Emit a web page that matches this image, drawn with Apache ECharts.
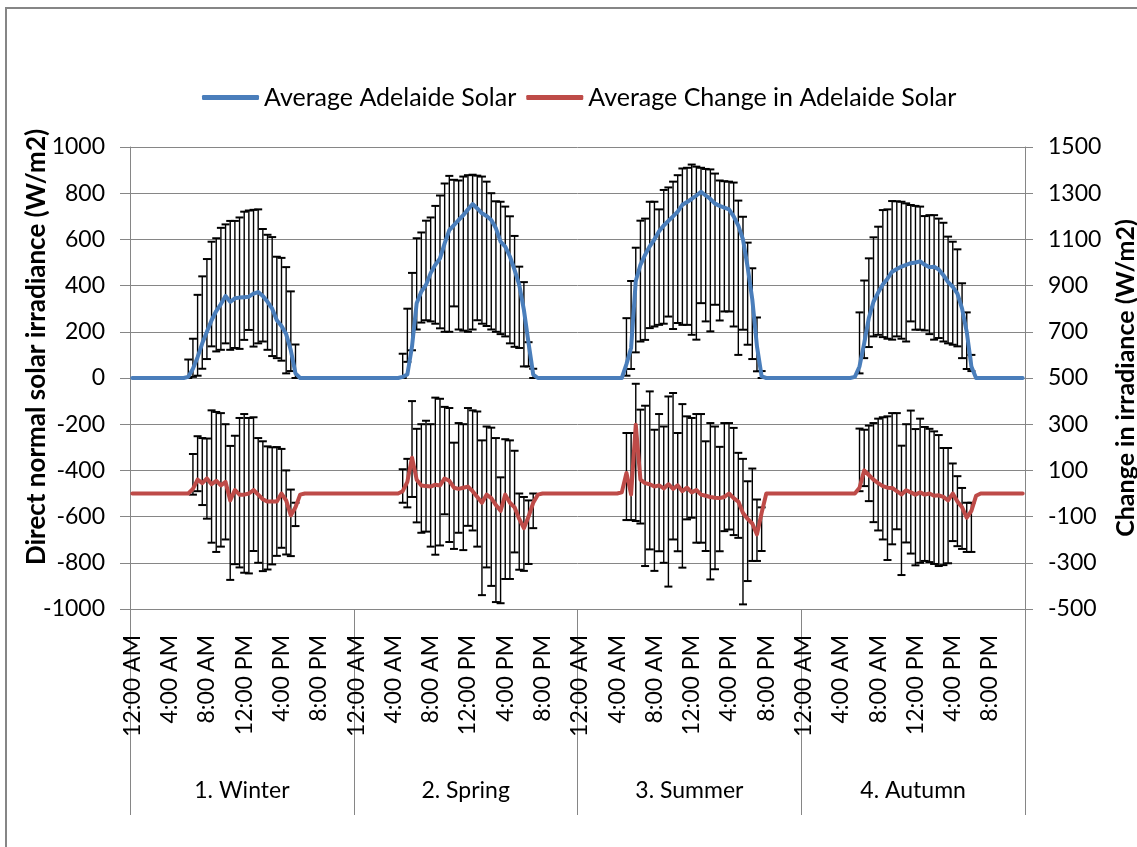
<!DOCTYPE html>
<html>
<head>
<meta charset="utf-8">
<title>Average Adelaide Solar</title>
<script src="https://cdn.jsdelivr.net/npm/echarts@6/dist/echarts.min.js"></script>
<style>
  html, body { margin: 0; padding: 0; background: #fff; }
  #chart { width: 1137px; height: 847px; }
</style>
</head>
<body>
<div id="chart"></div>
<script>
const _ = null;

const seasons = ['1. Winter', '2. Spring', '3. Summer', '4. Autumn'];

// half-hourly averages, 48 slots per season (W/m2)
const solarWinter = [
  0, 0, 0, 0, 0, 0, 0, 0, 0, 0, 0, 0,
  5, 40, 90, 150, 200, 250, 290, 320, 355, 330, 345, 348,
  350, 352, 365, 372, 355, 330, 300, 250, 225, 190, 120, 20,
  0, 0, 0, 0, 0, 0, 0, 0, 0, 0, 0, 0
];
const solarWinterHi = [
  _, _, _, _, _, _, _, _, _, _, _, _,
  80, 170, 360, 440, 515, 590, 605, 650, 665, 680, 680, 695,
  720, 725, 728, 730, 645, 620, 610, 525, 520, 480, 375, 145,
  _, _, _, _, _, _, _, _, _, _, _, _
];
const solarWinterLo = [
  _, _, _, _, _, _, _, _, _, _, _, _,
  0, 5, 10, 40, 82, 137, 115, 122, 150, 122, 130, 126,
  165, 208, 136, 150, 158, 122, 95, 86, 75, 20, 30, 0,
  _, _, _, _, _, _, _, _, _, _, _, _
];
const solarSpring = [
  0, 0, 0, 0, 0, 0, 0, 0, 0, 0, 5, 15,
  137, 324, 374, 403, 454, 490, 518, 583, 640, 662, 684, 705,
  730, 753, 734, 713, 701, 684, 648, 590, 569, 526, 468, 403,
  295, 151, 15, 0, 0, 0, 0, 0, 0, 0, 0, 0
];
const solarSpringHi = [
  _, _, _, _, _, _, _, _, _, _, 105, 300,
  455, 605, 630, 681, 695, 745, 790, 842, 875, 858, 855, 872,
  878, 880, 876, 872, 850, 800, 765, 763, 742, 700, 615, 482,
  415, 155, 40, _, _, _, _, _, _, _, _, _
];
const solarSpringLo = [
  _, _, _, _, _, _, _, _, _, _, 0, 70,
  120, 210, 240, 250, 245, 235, 215, 200, 200, 310, 210, 205,
  200, 210, 250, 235, 225, 210, 200, 190, 180, 150, 135, 130,
  50, 50, 0, _, _, _, _, _, _, _, _, _
];
const solarSummer = [
  0, 0, 0, 0, 0, 0, 0, 0, 0, 0, 60, 130,
  420, 490, 533, 570, 600, 635, 660, 680, 700, 720, 750, 762,
  775, 790, 806, 790, 775, 755, 745, 738, 730, 700, 660, 600,
  480, 340, 137, 7, 0, 0, 0, 0, 0, 0, 0, 0
];
const solarSummerHi = [
  _, _, _, _, _, _, _, _, _, _, 259, 420,
  564, 681, 690, 763, 763, 730, 814, 825, 850, 878, 907, 910,
  924, 915, 910, 905, 903, 885, 855, 852, 850, 846, 768, 698,
  586, 475, 262, 30, _, _, _, _, _, _, _, _
];
const solarSummerLo = [
  _, _, _, _, _, _, _, _, _, _, 10, 39,
  111, 158, 165, 216, 223, 230, 235, 266, 212, 238, 230, 230,
  187, 166, 324, 245, 202, 317, 249, 288, 288, 223, 100, 209,
  144, 82, 29, 0, _, _, _, _, _, _, _, _
];
const solarAutumn = [
  0, 0, 0, 0, 0, 0, 0, 0, 0, 0, 0, 5,
  50, 150, 260, 330, 370, 405, 430, 460, 472, 482, 490, 497,
  500, 505, 490, 480, 482, 470, 445, 415, 395, 365, 300, 200,
  50, 0, 0, 0, 0, 0, 0, 0, 0, 0, 0, 0
];
const solarAutumnHi = [
  _, _, _, _, _, _, _, _, _, _, _, _,
  284, 422, 518, 609, 655, 727, 730, 766, 765, 763, 756, 749,
  745, 742, 701, 705, 705, 690, 672, 612, 590, 557, 410, 284,
  100, _, _, _, _, _, _, _, _, _, _, _
];
const solarAutumnLo = [
  _, _, _, _, _, _, _, _, _, _, _, _,
  20, 86, 134, 180, 187, 177, 170, 166, 180, 170, 158, 245,
  209, 209, 206, 190, 166, 173, 158, 150, 144, 137, 86, 39,
  30, _, _, _, _, _, _, _, _, _, _, _
];

// change between half-hours (W/m2, right axis)
const changeWinter = [
  0, 0, 0, 0, 0, 0, 0, 0, 0, 0, 0, 0,
  0, 20, 60, 45, 65, 40, 55, 35, 50, -30, 15, -5,
  -5, 0, 15, -5, -25, -35, -35, -35, 0, -30, -95, -60,
  -5, 0, 0, 0, 0, 0, 0, 0, 0, 0, 0, 0
];
const changeWinterHi = [
  _, _, _, _, _, _, _, _, _, _, _, _,
  _, 171, 248, 240, 238, 360, 353, 348, 300, 206, 250, 327,
  344, 327, 330, 240, 226, 204, 200, 201, 193, 100, 17, -40,
  _, _, _, _, _, _, _, _, _, _, _, _
];
const changeWinterLo = [
  _, _, _, _, _, _, _, _, _, _, _, _,
  _, -5, 10, -50, -109, -213, -253, -230, -199, -374, -306, -320,
  -343, -346, -249, -300, -336, -329, -307, -270, -235, -264, -271, -141,
  _, _, _, _, _, _, _, _, _, _, _, _
];
const changeSpring = [
  0, 0, 0, 0, 0, 0, 0, 0, 0, 0, 10, 50,
  155, 60, 35, 32, 30, 38, 35, 65, 55, 25, 20, 25,
  30, 10, -15, -40, -5, -20, -50, -75, -5, -40, -60, -110,
  -150, -100, -40, -5, 0, 0, 0, 0, 0, 0, 0, 0
];
const changeSpringHi = [
  _, _, _, _, _, _, _, _, _, _, 105, 150,
  400, 280, 300, 315, 300, 415, 410, 375, 370, 220, 305, 300,
  370, 360, 355, 230, 290, 285, 240, 70, 235, 230, 185, 0,
  -15, -30, 0, _, _, _, _, _, _, _, _, _
];
const changeSpringLo = [
  _, _, _, _, _, _, _, _, _, _, -40, -60,
  -15, -125, -170, -165, -230, -265, -225, -90, -210, -240, -170, -245,
  -140, -160, -230, -440, -320, -400, -470, -475, -370, -370, -255, -330,
  -335, -305, -150, _, _, _, _, _, _, _, _, _
];
const changeSummer = [
  0, 0, 0, 0, 0, 0, 0, 0, 0, 5, 89, -4,
  298, 60, 45, 40, 30, 35, 22, 40, 20, 35, 10, 25,
  5, 15, -5, -10, -15, -18, -20, -15, 0, -20, -35, -84,
  -110, -130, -177, -84, 0, 0, 0, 0, 0, 0, 0, 0
];
const changeSummerHi = [
  _, _, _, _, _, _, _, _, _, _, 262, 262,
  475, 363, 380, 442, 276, 344, 290, 420, 435, 262, 387, 334,
  327, 344, 344, 226, 305, 290, 202, 305, 305, 284, 176, 150,
  53, 108, -26, -60, _, _, _, _, _, _, _, _
];
const changeSummerLo = [
  _, _, _, _, _, _, _, _, _, _, -115, -115,
  -119, -130, -314, -242, -335, -250, -300, -403, -199, -250, -321, -112,
  -105, -213, -213, -249, -372, -328, -250, -163, -156, -180, -192, -480,
  -379, -292, -292, -249, _, _, _, _, _, _, _, _
];
const changeAutumn = [
  0, 0, 0, 0, 0, 0, 0, 0, 0, 0, 0, 0,
  25, 100, 80, 60, 45, 32, 25, 24, 10, -4, 14, 5,
  -5, 5, -5, 0, -10, -8, -15, -30, 0, -35, -60, -105,
  -75, -10, 0, 0, 0, 0, 0, 0, 0, 0, 0, 0
];
const changeAutumnHi = [
  _, _, _, _, _, _, _, _, _, _, _, _,
  281, 276, 294, 305, 324, 330, 334, 348, 348, 207, 300, 359,
  279, 324, 288, 280, 269, 253, 197, 197, 130, 75, 24, -40,
  -40, _, _, _, _, _, _, _, _, _, _, _
];
const changeAutumnLo = [
  _, _, _, _, _, _, _, _, _, _, _, _,
  10, 32, -33, -124, -160, -199, -288, -220, -155, -353, -212, -260,
  -311, -300, -292, -297, -305, -314, -310, -302, -206, -228, -240, -253,
  -253, _, _, _, _, _, _, _, _, _, _, _
];

// category names: every half hour of the day, once per season
function clockLabel(slot) {
  const h = Math.floor(slot / 2);
  const h12 = h % 12 === 0 ? 12 : h % 12;
  return h12 + ':' + (slot % 2 ? '30' : '00') + (h < 12 ? ' AM' : ' PM');
}
const categories = [];
seasons.forEach(() => {
  for (let s = 0; s < 48; s++) categories.push(clockLabel(s));
});

const solar = [].concat(solarWinter, solarSpring, solarSummer, solarAutumn);
const solarHi = [].concat(solarWinterHi, solarSpringHi, solarSummerHi, solarAutumnHi);
const solarLo = [].concat(solarWinterLo, solarSpringLo, solarSummerLo, solarAutumnLo);
const change = [].concat(changeWinter, changeSpring, changeSummer, changeAutumn);
const changeHi = [].concat(changeWinterHi, changeSpringHi, changeSummerHi, changeAutumnHi);
const changeLo = [].concat(changeWinterLo, changeSpringLo, changeSummerLo, changeAutumnLo);

function errorData(lo, hi) {
  const out = [];
  lo.forEach((v, i) => {
    if (v !== null && hi[i] !== null) out.push([i, v, hi[i]]);
  });
  return out;
}

function renderErrorBar(params, api) {
  const i = api.value(0);
  const top = api.coord([i, api.value(2)]);
  const bottom = api.coord([i, api.value(1)]);
  const cap = 4;
  const stem = { stroke: '#000', lineWidth: 1.4 };
  const capStyle = { stroke: '#000', lineWidth: 2 };
  return {
    type: 'group',
    children: [
      { type: 'line', shape: { x1: top[0], y1: top[1], x2: bottom[0], y2: bottom[1] }, style: stem },
      { type: 'line', shape: { x1: top[0] - cap, y1: top[1], x2: top[0] + cap, y2: top[1] }, style: capStyle },
      { type: 'line', shape: { x1: bottom[0] - cap, y1: bottom[1], x2: bottom[0] + cap, y2: bottom[1] }, style: capStyle }
    ]
  };
}

const FONT = 'Lato';
const AXIS_GREY = '#868686';
const plainNumber = (v) => String(v);

const chart = echarts.init(document.getElementById('chart'));

const option = {
  backgroundColor: '#fff',
  animation: false,
  textStyle: { fontFamily: FONT, color: '#000' },
  graphic: [{
    type: 'rect',
    shape: { x: 6, y: 8, width: 1200, height: 900 },
    style: { fill: 'none', stroke: AXIS_GREY, lineWidth: 2 },
    silent: true
  }],
  legend: {
    top: 80,
    left: 197,
    icon: 'roundRect',
    itemWidth: 57,
    itemHeight: 5,
    itemGap: 10,
    textStyle: { fontFamily: FONT, fontSize: 25, color: '#000' },
    data: ['Average Adelaide Solar', 'Average Change in Adelaide Solar']
  },
  grid: [
    { left: 130, right: 112, top: 147, bottom: 238, containLabel: false, outerBoundsMode: 'none' },
    // season band under the time labels
    { left: 130, right: 112, top: 609, height: 206, containLabel: false, outerBoundsMode: 'none' }
  ],
  xAxis: [
    {
      type: 'category',
      gridIndex: 0,
      data: categories,
      position: 'bottom',
      axisLine: { lineStyle: { color: AXIS_GREY } },
      axisTick: { show: false },
      axisLabel: {
        interval: 7,
        rotate: 90,
        margin: 26,
        fontFamily: FONT,
        fontSize: 23,
        color: '#000'
      },
      splitLine: { show: false }
    },
    {
      type: 'category',
      gridIndex: 1,
      data: seasons,
      position: 'bottom',
      axisLine: { show: false },
      axisTick: { show: false },
      axisLabel: { inside: true, margin: 13, fontFamily: FONT, fontSize: 23, color: '#000' },
      splitLine: { show: true, interval: 0, lineStyle: { color: AXIS_GREY } }
    }
  ],
  yAxis: [
    {
      type: 'value',
      gridIndex: 0,
      min: -1000,
      max: 1000,
      interval: 200,
      position: 'left',
      name: 'Direct normal solar irradiance (W/m2)',
      nameLocation: 'middle',
      nameGap: 80,
      nameMoveOverlap: false,
      nameTextStyle: { fontFamily: FONT, fontSize: 26, fontWeight: 'bold', color: '#000', padding: [0, 0, 0, 62] },
      axisLine: { show: true, lineStyle: { color: AXIS_GREY } },
      axisTick: { show: true, length: 10, lineStyle: { color: AXIS_GREY } },
      axisLabel: { margin: 25, fontFamily: FONT, fontSize: 23, color: '#000', formatter: plainNumber },
      splitLine: { show: true, lineStyle: { color: AXIS_GREY } }
    },
    {
      type: 'value',
      gridIndex: 0,
      min: -500,
      max: 1500,
      interval: 200,
      position: 'right',
      name: 'Change in irradiance (W/m2)',
      nameLocation: 'middle',
      nameGap: 88,
      nameMoveOverlap: false,
      nameTextStyle: { fontFamily: FONT, fontSize: 25, fontWeight: 'bold', color: '#000' },
      axisLine: { show: true, lineStyle: { color: AXIS_GREY } },
      axisTick: { show: true, length: 8, lineStyle: { color: AXIS_GREY } },
      axisLabel: { margin: 23, fontFamily: FONT, fontSize: 23, color: '#000', formatter: plainNumber },
      splitLine: { show: false }
    },
    {
      type: 'value',
      gridIndex: 1,
      show: false
    }
  ],
  series: [
    {
      name: 'Average Adelaide Solar error',
      type: 'custom',
      xAxisIndex: 0,
      yAxisIndex: 0,
      renderItem: renderErrorBar,
      encode: { x: 0, y: [1, 2] },
      data: errorData(solarLo, solarHi),
      z: 2,
      silent: true
    },
    {
      name: 'Average Change in Adelaide Solar error',
      type: 'custom',
      xAxisIndex: 0,
      yAxisIndex: 1,
      renderItem: renderErrorBar,
      encode: { x: 0, y: [1, 2] },
      data: errorData(changeLo, changeHi),
      z: 2,
      silent: true
    },
    {
      name: 'Average Adelaide Solar',
      type: 'line',
      xAxisIndex: 0,
      yAxisIndex: 0,
      data: solar,
      symbol: 'none',
      lineStyle: { color: '#4a7ebb', width: 4, join: 'round', cap: 'round' },
      itemStyle: { color: '#4a7ebb' },
      z: 3
    },
    {
      name: 'Average Change in Adelaide Solar',
      type: 'line',
      xAxisIndex: 0,
      yAxisIndex: 1,
      data: change,
      symbol: 'none',
      lineStyle: { color: '#be4b48', width: 4, join: 'round', cap: 'round' },
      itemStyle: { color: '#be4b48' },
      z: 3
    }
  ]
};

chart.setOption(option);
</script>
</body>
</html>
